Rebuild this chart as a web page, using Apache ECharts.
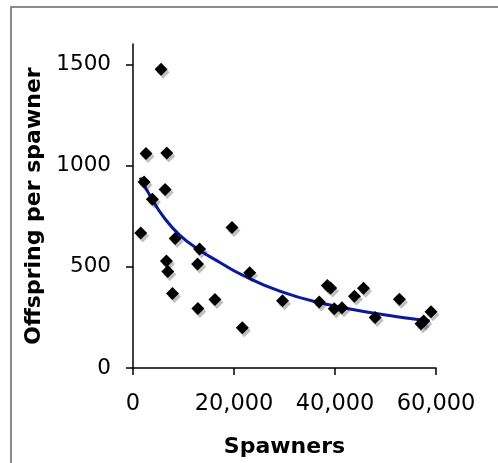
<!DOCTYPE html>
<html>
<head>
<meta charset="utf-8">
<script src="https://cdn.jsdelivr.net/npm/echarts@6/dist/echarts.min.js"></script>
<style>
html,body{margin:0;padding:0;background:#fff;}
#chart{width:498px;height:463px;}
</style>
</head>
<body>
<div id="chart"></div>
<script>
// Observed data points
var spawners = [1530, 2190, 2580, 3840, 5560, 6360, 6690, 6620, 6890, 7820, 8350,
  12780, 12850, 13180, 16230, 19600, 21650, 23110, 29600, 36880, 38480, 39140,
  39850, 41380, 43850, 45640, 47950, 52750, 57030, 57560, 59010];
var offspring = [667, 918, 1059, 833, 1475, 882, 1062, 528, 477, 368, 640,
  513, 294, 588, 338, 694, 199, 470, 332, 326, 408, 395,
  292, 298, 354, 394, 249, 339, 218, 232, 278];
// Fitted trend line
var trendX = [1400, 3700, 6000, 9300, 13200, 17300, 21500, 29200, 37200, 47800, 58700];
var trendY = [940, 837, 748, 655, 582, 520, 461, 378, 321, 270, 232];
// Axis ticks
var xTicks = [0, 20000, 40000, 60000];
var yTicks = [0, 500, 1000, 1500];

var pts = spawners.map(function (s, i) { return [s, offspring[i]]; });
var trend = trendX.map(function (s, i) { return [s, trendY[i]]; });
var font = 'DejaVu Sans, Verdana, sans-serif';
function fmt(v) { return String(v).replace(/\B(?=(\d{3})+(?!\d))/g, ','); }

var chart = echarts.init(document.getElementById('chart'), null, {renderer: 'canvas'});
chart.setOption({
  animation: false,
  backgroundColor: '#fff',
  grid: {left: 133, right: 62, top: 44, bottom: 93, containLabel: false},
  graphic: [{
    type: 'rect', z: 100,
    shape: {x: 11, y: 7, width: 700, height: 700},
    style: {fill: 'none', stroke: '#666', lineWidth: 1.5}
  }],
  xAxis: {
    type: 'value', min: 0, max: 60000, interval: 20000,
    name: 'Spawners', nameLocation: 'middle', nameGap: 68,
    nameTextStyle: {fontFamily: font, fontSize: 22, fontWeight: 'bold', color: '#000'},
    axisLine: {show: true, onZero: false, lineStyle: {color: '#000', width: 1.5}},
    axisTick: {show: true, length: 7, lineStyle: {color: '#000', width: 1.5}, customValues: xTicks},
    axisLabel: {fontFamily: font, fontSize: 22.5, color: '#000', margin: 25, formatter: fmt, customValues: xTicks},
    splitLine: {show: false}
  },
  yAxis: {
    type: 'value', min: 0, max: 1600, interval: 500,
    name: 'Offspring per spawner', nameLocation: 'middle', nameGap: 88, nameRotate: 90,
    nameTextStyle: {fontFamily: font, fontSize: 22, fontWeight: 'bold', color: '#000'},
    axisLine: {show: true, onZero: false, lineStyle: {color: '#000', width: 1.5}},
    axisTick: {show: true, length: 7, lineStyle: {color: '#000', width: 1.5}, customValues: yTicks},
    axisLabel: {fontFamily: font, fontSize: 21.5, color: '#000', margin: 22, formatter: function (v) { return String(v); }, customValues: yTicks},
    splitLine: {show: false}
  },
  series: [{
    type: 'line', data: trend, smooth: true, symbol: 'none', z: 2,
    lineStyle: {color: '#0A1A9C', width: 3}
  }, {
    type: 'scatter', data: pts, symbol: 'diamond', symbolSize: 13, z: 3,
    itemStyle: {color: '#000', opacity: 1, shadowColor: 'rgba(0,0,0,0.25)', shadowOffsetX: 2, shadowOffsetY: 3, shadowBlur: 0}
  }]
});
</script>
</body>
</html>
